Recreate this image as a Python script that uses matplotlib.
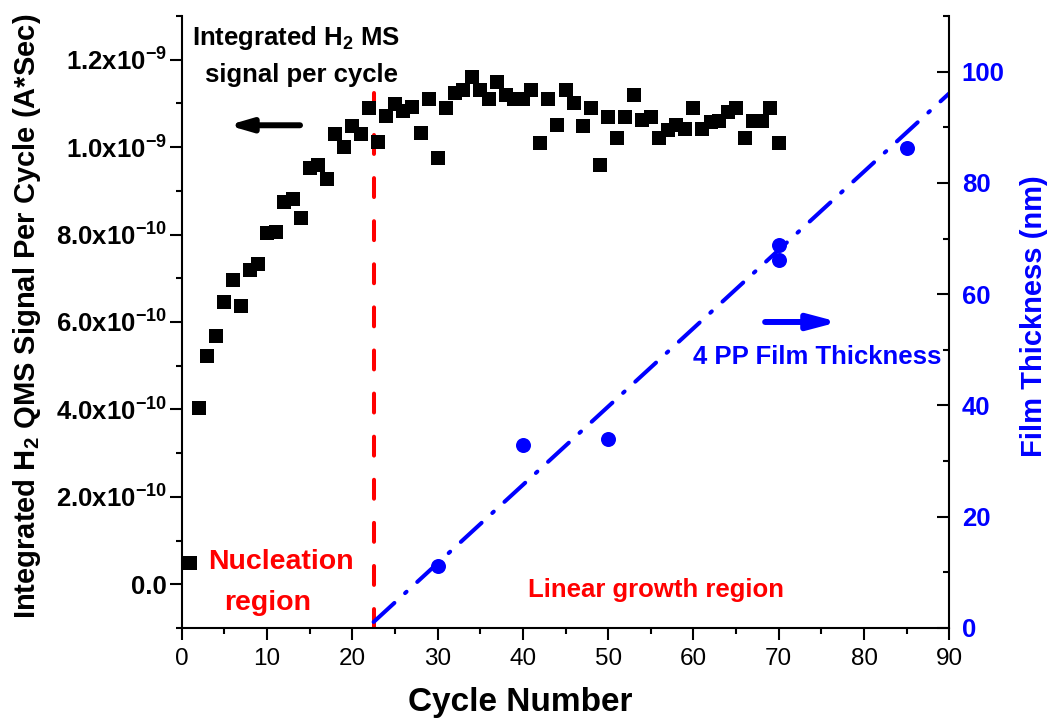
import numpy as np
import matplotlib
matplotlib.use("Agg")
import matplotlib.pyplot as plt
from matplotlib.ticker import MultipleLocator

plt.rcParams['font.family'] = ['Liberation Sans', 'DejaVu Sans']
plt.rcParams['mathtext.fontset'] = 'custom'
plt.rcParams['mathtext.rm'] = 'Liberation Sans:bold'
plt.rcParams['mathtext.it'] = 'Liberation Sans:bold'
plt.rcParams['mathtext.bf'] = 'Liberation Sans:bold'
plt.rcParams['mathtext.default'] = 'rm'

# integrated H2 QMS signal for each ALD cycle (units of 1e-10 A*s)
cycles = np.arange(1, 71)
h2_signal = np.array([
    0.48, 4.03, 5.22, 5.68, 6.45, 6.96, 6.36, 7.19, 7.32, 8.03,
    8.05, 8.74, 8.81, 8.38, 9.52, 9.59, 9.27, 10.30, 10.00, 10.48,
    10.30, 10.89, 10.11, 10.71, 10.98, 10.82, 10.92, 10.32, 11.10, 9.75,
    10.89, 11.24, 11.30, 11.60, 11.30, 11.10, 11.49, 11.19, 11.10, 11.10,
    11.30, 10.09, 11.10, 10.50, 11.30, 11.01, 10.48, 10.89, 9.59, 10.69,
    10.21, 10.69, 11.19, 10.62, 10.69, 10.21, 10.39, 10.50, 10.41, 10.89,
    10.41, 10.57, 10.59, 10.80, 10.89, 10.21, 10.59, 10.59, 10.89, 10.09,
]) * 1e-10

# ellipsometry film thickness (nm)
thick_cycles = [30, 40, 50, 70, 70, 85]
thickness = [11.2, 32.9, 34.0, 68.9, 66.2, 86.3]

# linear growth fit: thickness = slope * cycle + intercept
fit_slope = 1.408
fit_intercept = -30.6
fit_cycles = np.array([22.5, 90])

nucleation_end = 22.5
nucleation_line_top = 1.124e-9

left_ticks = [0, 2e-10, 4e-10, 6e-10, 8e-10, 1.0e-9, 1.2e-9]
left_labels = ['0.0', '2.0x10$^{-10}$', '4.0x10$^{-10}$', '6.0x10$^{-10}$',
               '8.0x10$^{-10}$', '1.0x10$^{-9}$', '1.2x10$^{-9}$']
right_ticks = [0, 20, 40, 60, 80, 100]
x_ticks = list(range(0, 91, 10))

RED = '#ff0000'
BLUE = '#0000ff'

fig = plt.figure(figsize=(10.51, 7.23), dpi=100)
ax = fig.add_axes([0.1729, 0.1314, 0.7304, 0.8465])

ax.plot(cycles, h2_signal, 's', color='black', ms=9.5, mew=0, zorder=3)
ax.plot([nucleation_end, nucleation_end], [-1e-10, nucleation_line_top],
        color=RED, lw=2.9, dashes=(4.7, 6.0), dash_capstyle='round', zorder=2)

ax.set_xlim(0, 90)
ax.set_ylim(-1e-10, 1.3e-9)
ax.set_xticks(x_ticks)
ax.xaxis.set_minor_locator(MultipleLocator(5))
ax.set_yticks(left_ticks)
ax.set_yticklabels(left_labels)
ax.yaxis.set_minor_locator(MultipleLocator(1e-10))

for side in ['top', 'right']:
    ax.spines[side].set_visible(False)
for side in ['left', 'bottom']:
    ax.spines[side].set_linewidth(1.5)

ax.tick_params(axis='x', which='major', direction='out', length=8.6, width=1.5,
               labelsize=17.5, pad=6)
ax.tick_params(axis='x', which='minor', direction='out', length=4.3, width=1.5)
ax.tick_params(axis='y', which='major', direction='out', length=8.6, width=1.5,
               labelsize=18.5, pad=2)
ax.tick_params(axis='y', which='minor', direction='out', length=4.3, width=1.5)
for lab in ax.get_yticklabels():
    lab.set_fontweight('bold')

ax.set_xlabel('Cycle Number', fontsize=24, fontweight='bold', va='center')
ax.xaxis.set_label_coords(0.4405, -0.1225)
ax.set_ylabel('Integrated H$_2$ QMS Signal Per Cycle (A*Sec)', fontsize=21,
              fontweight='bold', va='center')
ax.yaxis.set_label_coords(-0.2015, 0.51)

# thickness on the right-hand axis
ax2 = ax.twinx()
ax2.plot(fit_cycles, fit_slope * fit_cycles + fit_intercept, color=BLUE, lw=2.9,
         dashes=(7, 3.6, 0.5, 3.6), dash_capstyle='round', zorder=2)
ax2.plot(thick_cycles, thickness, 'o', color=BLUE, ms=10.8, mew=0, zorder=3)
ax2.set_ylim(0, 110)
ax2.set_yticks(right_ticks)
ax2.yaxis.set_minor_locator(MultipleLocator(10))
for side in ['top', 'left', 'bottom']:
    ax2.spines[side].set_visible(False)
ax2.spines['right'].set_linewidth(1.5)
ax2.tick_params(axis='y', which='major', direction='in', length=8.6, width=1.5,
                labelsize=18.5, labelcolor=BLUE, pad=9)
ax2.tick_params(axis='y', which='minor', direction='in', length=4.3, width=1.5)
for lab in ax2.get_yticklabels():
    lab.set_fontweight('bold')
ax2.set_ylabel('Film Thickness (nm)', fontsize=21, fontweight='bold',
               color=BLUE, va='center', rotation=90)
ax2.yaxis.set_label_coords(1.110, 0.51)

# annotations
ax.text(13.4, 1.249e-9, 'Integrated H$_2$ MS', fontsize=18.5, fontweight='bold',
        ha='center', va='center')
ax.text(14.1, 1.165e-9, 'signal per cycle', fontsize=18.5, fontweight='bold',
        ha='center', va='center')
ax.annotate('', xy=(5.43, 1.05e-9), xytext=(13.87, 1.05e-9),
            arrowprops=dict(arrowstyle='-|>,head_length=13,head_width=3.8',
                            mutation_scale=1, lw=4.3, color='black',
                            shrinkA=0, shrinkB=0, capstyle='round'))

ax.text(11.65, 0.50e-10, 'Nucleation', fontsize=20.5, fontweight='bold',
        color=RED, ha='center', va='center')
ax.text(10.1, -0.43e-10, 'region', fontsize=20.5, fontweight='bold',
        color=RED, ha='center', va='center')
ax.text(55.6, -0.14e-10, 'Linear growth region', fontsize=18.5, fontweight='bold',
        color=RED, ha='center', va='center')

ax2.text(74.5, 48.7, '4 PP Film Thickness', fontsize=18.5, fontweight='bold',
         color=BLUE, ha='center', va='center')
ax2.annotate('', xy=(77.0, 55.0), xytext=(68.4, 55.0),
             arrowprops=dict(arrowstyle='-|>,head_length=17,head_width=4.5',
                             mutation_scale=1, lw=4.3, color=BLUE,
                             shrinkA=0, shrinkB=0, capstyle='round'))

fig.savefig('out.png', dpi=100)
